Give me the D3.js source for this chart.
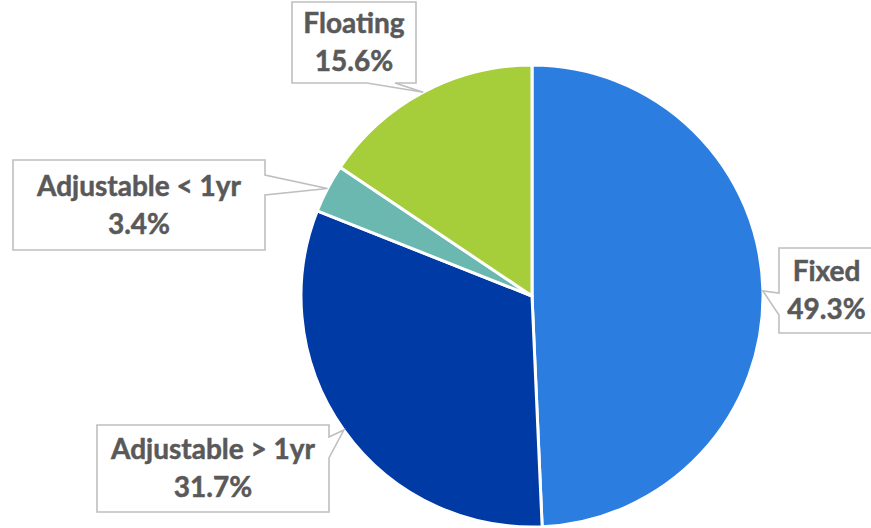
<!DOCTYPE html>
<html>
<head>
<meta charset="utf-8">
<script src="https://cdn.jsdelivr.net/npm/d3@7"></script>
<style>
  html, body { margin: 0; padding: 0; background: #fff; }
  svg { display: block; }
</style>
</head>
<body>
<svg id="chart" width="871" height="528"></svg>
<script>
// Loan rate type breakdown
const categories = ["Fixed", "Adjustable > 1yr", "Adjustable < 1yr", "Floating"];
const shares = [49.3, 31.7, 3.4, 15.6];
const labels = ["49.3%", "31.7%", "3.4%", "15.6%"];
const colors = ["#2B7DE0", "#003AA5", "#6AB8B0", "#A6CD3A"];

const width = 871, height = 528;
const cx = 532, cy = 296, radius = 231;

const svg = d3.select("#chart");
const g = svg.append("g").attr("transform", `translate(${cx},${cy})`);

const pie = d3.pie().sort(null).value(d => d.v);
const arcs = pie(categories.map((c, i) => ({ c, v: shares[i], i })));
const arc = d3.arc().innerRadius(0).outerRadius(radius);

g.selectAll("path.slice")
  .data(arcs)
  .join("path")
  .attr("class", "slice")
  .attr("d", arc)
  .attr("fill", d => colors[d.data.i])
  .attr("stroke", "#fff")
  .attr("stroke-width", 3)
  .attr("stroke-linejoin", "round");

// Callout boxes: rectangle plus pointer wedge on one side, pointing at slice edge midpoint
const callouts = [
  { box: [779, 248, 874, 333], side: "left",   base: [293, 315] },
  { box: [97, 425, 329, 512],  side: "right",  base: [437, 458] },
  { box: [13, 160, 265, 250],  side: "right",  base: [175, 195] },
  { box: [292, 2, 416, 83],    side: "bottom", base: [367, 395] }
];

function tipOf(a) {
  const m = (a.startAngle + a.endAngle) / 2;
  return [cx + radius * Math.sin(m), cy - radius * Math.cos(m)];
}

function calloutPath(c, tip) {
  const [x0, y0, x1, y1] = c.box;
  const [b0, b1] = c.base;
  const p = d3.path();
  p.moveTo(x0, y0);
  p.lineTo(x1, y0);
  if (c.side === "right") {
    p.lineTo(x1, b0); p.lineTo(tip[0], tip[1]); p.lineTo(x1, b1);
  }
  p.lineTo(x1, y1);
  if (c.side === "bottom") {
    p.lineTo(b1, y1); p.lineTo(tip[0], tip[1]); p.lineTo(b0, y1);
  }
  p.lineTo(x0, y1);
  if (c.side === "left") {
    p.lineTo(x0, b1); p.lineTo(tip[0], tip[1]); p.lineTo(x0, b0);
  }
  p.closePath();
  return p.toString();
}

const lab = svg.append("g");
arcs.forEach((a, i) => {
  const c = callouts[i];
  const tip = tipOf(a);
  lab.append("path")
    .attr("d", calloutPath(c, tip))
    .attr("fill", "#fff")
    .attr("stroke", "#BFBFBF")
    .attr("stroke-width", 1.6)
    .attr("stroke-linejoin", "miter");
  const mx = (c.box[0] + c.box[2]) / 2;
  const my = (c.box[1] + c.box[3]) / 2;
  const t = lab.append("text")
    .attr("text-anchor", "middle")
    .attr("font-family", "Lato, 'Open Sans', sans-serif")
    .attr("font-weight", "bold")
    .attr("font-size", 28)
    .attr("fill", "#595959")
    .attr("stroke", "#595959")
    .attr("stroke-width", 0.5);
  t.append("tspan").attr("x", mx).attr("y", my - 19).attr("dy", "0.35em").text(categories[i]);
  t.append("tspan").attr("x", mx).attr("y", my + 19).attr("dy", "0.35em").text(labels[i]);
});
</script>
</body>
</html>
